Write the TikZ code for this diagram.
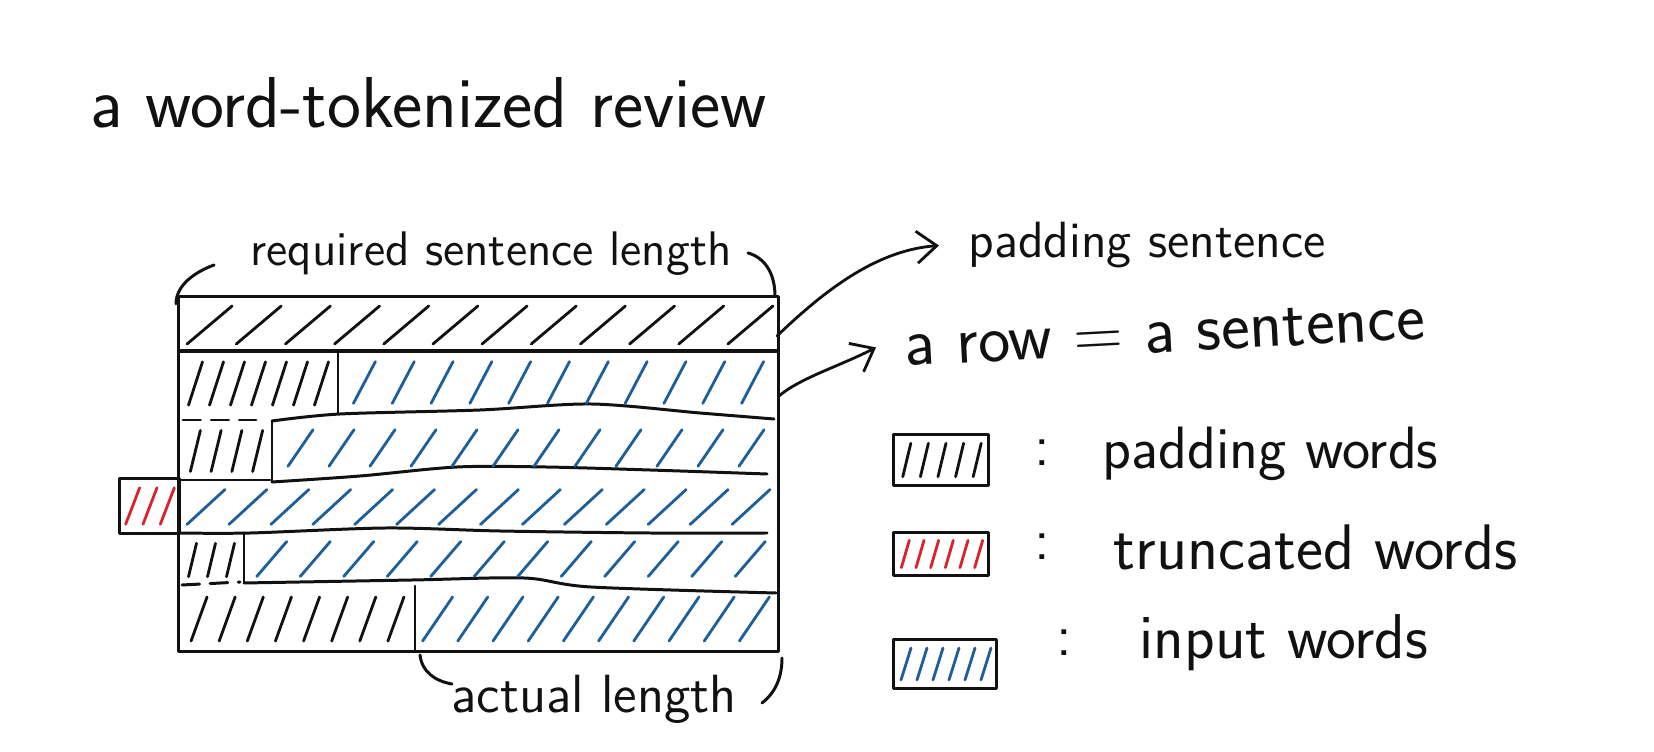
\documentclass[tikz,border=0pt]{standalone}
\usepackage{xcolor}
\usepackage{tikz}
\usetikzlibrary{arrows.meta,positioning,calc}
\definecolor{penblue}{HTML}{1F5F99}
\definecolor{penred}{HTML}{D9222B}
\definecolor{ink}{HTML}{111111}
\tikzset{
    every picture/.style={line cap=round,line join=round},
    boxline/.style={draw=ink,line width=0.85pt},
    hatchline/.style={line width=0.8pt},
    dashline/.style={draw=ink,line width=0.85pt,dash pattern=on 5pt off 3pt},
    rowbox/.style={boxline,rectangle,inner sep=0pt,outer sep=0pt},
    legendbox/.style={boxline,rectangle,inner sep=0pt,outer sep=0pt},
    handtext/.style={text=ink,inner sep=0pt,anchor=base west,font=\sffamily},
    pointer/.style={-{Straight Barb[length=2mm,width=3.2mm]},draw=ink,line width=0.8pt}
}
% slanted strokes inside a band: left, right, top, bottom, count, slant, colour
\newcommand{\hatchband}[7]{%
  \foreach \k in {1,...,#5}{%
    \pgfmathsetmacro{\hx}{#1+(#2-#1)*(\k-0.5)/#5}%
    \pgfmathsetmacro{\hm}{0.12*(#4-#3)}%
    \draw[hatchline,#7] (\hx-#6/2,#4-\hm) -- (\hx+#6/2,#3+\hm);
  }}

\begin{document}
\begin{tikzpicture}[x=0.01cm,y=-0.01cm]
  \useasboundingbox[fill=white] (0,0) rectangle (1654,752);

  % title
  \node[handtext,font=\sffamily\fontsize{20.5}{24}\selectfont] (title) at (90,128) {a word-tokenized review};

  % the rows
  \node[rowbox,minimum width=5.99cm,minimum height=0.54cm] (padrow) at (478.5,324) {};
  \node[rowbox,minimum width=5.99cm,minimum height=3cm] (rows) at (478.5,501) {};
  \node[rowbox,minimum width=0.59cm,minimum height=0.54cm] (cutbox) at (149.5,506) {};

  \draw[boxline] (338,351) -- (338,413);
  \draw[boxline] plot[smooth] coordinates {(272,421) (340,414) (480,410) (591,404) (700,413) (774,419)};
  \draw[dashline] (183,420) -- (256,420);
  \draw[boxline] (272,421) -- (272,482);
  \draw[boxline] (179,480) -- (270,480);
  \draw[boxline] plot[smooth] coordinates {(272,482) (360,476) (457,467) (546,467) (650,470) (767,474)};
  \draw[boxline] plot[smooth] coordinates {(179,533) (250,533) (386,528) (500,531) (650,533) (767,533)};
  \draw[boxline] (244,533) -- (244,583);
  \draw[dashline] (182,585) -- (240,582);
  \draw[boxline] plot[smooth] coordinates {(244,583) (412,580) (524,578) (591,587) (776,593)};
  \draw[boxline] (415,586) -- (415,651);

  \hatchband{185}{775}{300}{350}{12}{45}{ink}
  \hatchband{185}{332}{355}{412}{7}{14}{ink}
  \hatchband{345}{772}{355}{410}{11}{22}{penblue}
  \hatchband{185}{268}{424}{478}{4}{10}{ink}
  \hatchband{280}{772}{424}{472}{12}{25}{penblue}
  \hatchband{124}{176}{482}{530}{3}{14}{penred}
  \hatchband{185}{772}{484}{530}{14}{38}{penblue}
  \hatchband{183}{240}{538}{582}{3}{8}{ink}
  \hatchband{250}{772}{536}{582}{12}{30}{penblue}
  \hatchband{185}{410}{590}{648}{8}{16}{ink}
  \hatchband{420}{772}{590}{648}{10}{30}{penblue}

  % brackets and their labels
  \draw[boxline] (176,304) .. controls (176,285) and (195,272) .. (214,265);
  \draw[boxline] (748,253) .. controls (766,258) and (775,275) .. (775,296);
  \node[handtext,font=\sffamily\fontsize{13.8}{17}\selectfont] (reqlen) at (250,266) {required sentence length};
  \draw[boxline] (420,655) .. controls (422,672) and (435,681) .. (452,684);
  \draw[boxline] (782,658) .. controls (782,678) and (775,693) .. (762,703);
  \node[handtext,font=\sffamily\fontsize{15.3}{18}\selectfont] (actlen) at (451,712) {actual length};

  % pointers
  \node[handtext,font=\sffamily\fontsize{14.5}{17}\selectfont] (padsent) at (968,258) {padding sentence};
  \node[handtext,font=\sffamily\fontsize{19.4}{22}\selectfont,rotate=3] (rowsent) at (905,366) {a row = a sentence};
  \coordinate (padtail) at (777,336);
  \coordinate (rowtail) at (779,396);
  \draw[pointer] (padtail) .. controls (830,285) and (880,250) .. ([xshift=-0.29cm]padsent.west);
  \draw[pointer] (rowtail) .. controls (800,378) and (840,366) .. ([xshift=-0.28cm]rowsent.west);

  % legend
  \node[legendbox,minimum width=0.95cm,minimum height=0.5cm] (legpad) at (941,460) {};
  \node[legendbox,minimum width=0.95cm,minimum height=0.42cm] (legtrunc) at (941,554) {};
  \node[legendbox,minimum width=1.03cm,minimum height=0.48cm] (leginput) at (945,664) {};
  \hatchband{898}{986}{438}{482}{5}{8}{ink}
  \hatchband{898}{986}{536}{572}{6}{8}{penred}
  \hatchband{898}{994}{643}{685}{6}{10}{penblue}
  \node[handtext,font=\sffamily\fontsize{17}{20}\selectfont] (colpad) at (1034,466) {:};
  \node[handtext,font=\sffamily\fontsize{17}{20}\selectfont] (coltrunc) at (1034,560) {:};
  \node[handtext,font=\sffamily\fontsize{17}{20}\selectfont] (colinput) at (1056,656) {:};
  \node[handtext,font=\sffamily\fontsize{17}{20}\selectfont] (padlbl) at (1102,469) {padding words};
  \node[handtext,font=\sffamily\fontsize{18.3}{21}\selectfont] (trunclbl) at (1113,570) {truncated words};
  \node[handtext,font=\sffamily\fontsize{18}{21}\selectfont] (inputlbl) at (1139,659) {input words};
\end{tikzpicture}
\end{document}
